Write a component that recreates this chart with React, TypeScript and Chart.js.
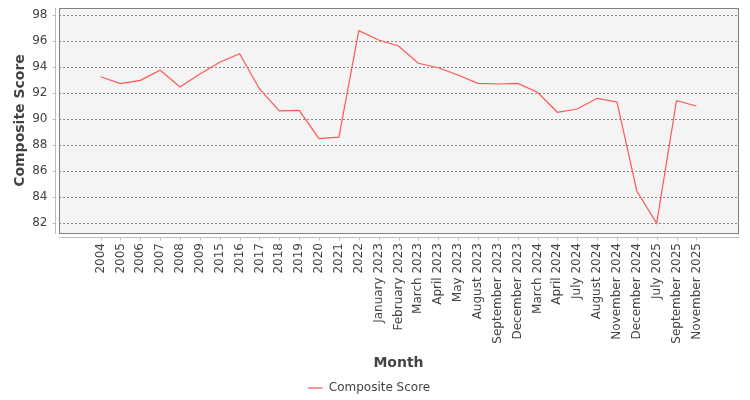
import { useEffect, useRef } from "react"
import { Chart, registerables } from "chart.js"

Chart.register(...registerables)

const categories = [
  "2004", "2005", "2006", "2007", "2008", "2009", "2015", "2016", "2017", "2018",
  "2019", "2020", "2021", "2022", "January 2023", "February 2023", "March 2023",
  "April 2023", "May 2023", "August 2023", "September 2023", "December 2023",
  "March 2024", "April 2024", "July 2024", "August 2024", "November 2024",
  "December 2024", "July 2025", "September 2025", "November 2025",
]

const compositeScore = [
  93.26, 92.73, 92.98, 93.75, 92.47, 93.47, 94.37, 95.03, 92.32, 90.63,
  90.68, 88.5, 88.61, 96.8, 96.08, 95.62, 94.29, 93.95, 93.39, 92.75,
  92.7, 92.75, 92.06, 90.53, 90.78, 91.6, 91.32, 84.48, 82.0, 91.42, 91.01,
]

const yTickValues = [82, 84, 86, 88, 90, 92, 94, 96, 98]

const TEXT = "#444444"

// plot background, outline and the detached axis lines (JFreeChart look)
const plotFrame = {
  id: "plotFrame",
  beforeDraw(chart: any) {
    const { ctx, chartArea: a } = chart
    ctx.save()
    ctx.fillStyle = "#f4f4f4"
    ctx.fillRect(a.left, a.top, a.right - a.left, a.bottom - a.top)
    ctx.restore()
  },
  afterDraw(chart: any) {
    const { ctx, chartArea: a, scales } = chart
    ctx.save()
    ctx.lineWidth = 1
    ctx.strokeStyle = "#808080"
    ctx.strokeRect(a.left + 0.5, a.top + 0.5, a.right - a.left, a.bottom - a.top)

    ctx.strokeStyle = "#bdbdbd"
    ctx.beginPath()
    const ax = a.left - 3.5
    ctx.moveTo(ax, a.top)
    ctx.lineTo(ax, a.bottom + 1)
    scales.y.ticks.forEach((t: any) => {
      const py = Math.round(scales.y.getPixelForValue(t.value)) + 0.5
      ctx.moveTo(ax - 3, py)
      ctx.lineTo(ax, py)
    })
    const ay = a.bottom + 4.5
    ctx.moveTo(a.left, ay)
    ctx.lineTo(a.right + 1, ay)
    scales.x.ticks.forEach((t: any) => {
      const px = Math.round(scales.x.getPixelForValue(t.value)) + 0.5
      ctx.moveTo(px, ay)
      ctx.lineTo(px, ay + 3)
    })
    ctx.stroke()
    ctx.restore()
  },
}

const CompositeScoreChart = () => {
  const chartRef = useRef<HTMLCanvasElement>(null)
  const chartInstance = useRef<Chart | null>(null)

  useEffect(() => {
    if (!chartRef.current) return
    document.body.style.margin = "0"

    if (chartInstance.current) {
      chartInstance.current.destroy()
    }

    const ctx = chartRef.current.getContext("2d")
    if (!ctx) return

    Chart.defaults.font.family = "'DejaVu Sans', sans-serif"
    Chart.defaults.color = TEXT

    chartInstance.current = new Chart(ctx, {
      type: "line",
      data: {
        datasets: [
          {
            label: "Composite Score",
            data: compositeScore.map((y, i) => ({ x: i, y })),
            borderColor: "#ff5555",
            backgroundColor: "#ff5555",
            borderWidth: 1.2,
            pointRadius: 0,
            tension: 0,
            fill: false,
          },
        ],
      },
      options: {
        responsive: false,
        animation: false,
        layout: { padding: { left: 0, top: 8, right: 12, bottom: -4 } },
        plugins: {
          tooltip: { enabled: false },
          legend: {
            position: "bottom",
            labels: {
              usePointStyle: true,
              pointStyle: "line",
              pointStyleWidth: 15,
              color: TEXT,
              font: { size: 12 },
              padding: 10,
            },
          },
        },
        scales: {
          x: {
            type: "linear",
            min: -2.0956,
            max: 32.0956,
            afterBuildTicks: (scale: any) => {
              scale.ticks = categories.map((_, i) => ({ value: i }))
            },
            afterFit: (scale: any) => {
              scale.height = 139
              scale.paddingLeft = 0
              scale.paddingRight = 0
            },
            grid: { display: false, drawTicks: false },
            border: { display: false },
            ticks: {
              autoSkip: false,
              minRotation: 90,
              maxRotation: 90,
              padding: 10,
              color: TEXT,
              font: { size: 12 },
              callback: (value: any) => categories[value] ?? "",
            },
            title: {
              display: true,
              text: "Month",
              color: TEXT,
              font: { size: 14, weight: "bold" },
              padding: { top: 4, bottom: 0 },
            },
          },
          y: {
            min: 81.25,
            max: 98.54,
            afterBuildTicks: (scale: any) => {
              scale.ticks = yTickValues.map((v) => ({ value: v }))
            },
            afterFit: (scale: any) => {
              scale.width = 59
              scale.paddingTop = 0
              scale.paddingBottom = 0
            },
            grid: { color: "#888888", lineWidth: 1, drawTicks: false },
            border: { display: false, dash: [2, 2] },
            ticks: {
              padding: 11.5,
              color: TEXT,
              font: { size: 12 },
              callback: (value: any) => String(value),
            },
            title: {
              display: true,
              text: "Composite Score",
              color: TEXT,
              font: { size: 14, weight: "bold" },
              padding: { top: 12, bottom: 0 },
            },
          },
        },
      },
      plugins: [plotFrame],
    })

    return () => {
      if (chartInstance.current) {
        chartInstance.current.destroy()
        chartInstance.current = null
      }
    }
  }, [])

  return (
    <div style={{ width: 750, height: 400, background: "#ffffff" }}>
      <canvas ref={chartRef} width={750} height={400}></canvas>
    </div>
  )
}

export default function App() {
  return <CompositeScoreChart />
}
